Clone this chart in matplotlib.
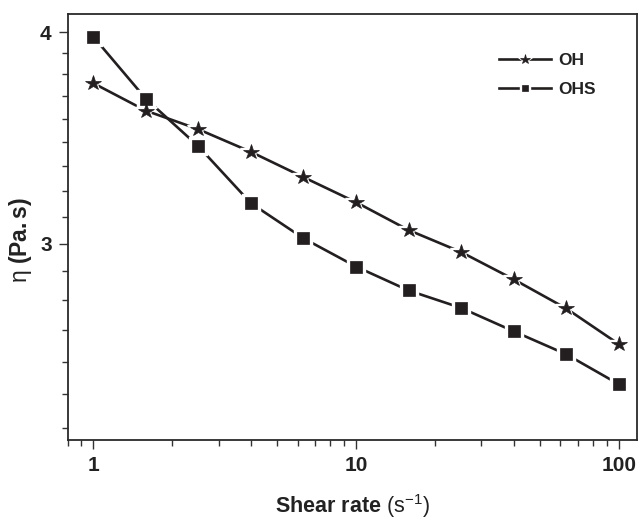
import matplotlib
matplotlib.use("Agg")
import matplotlib.pyplot as plt
from matplotlib.ticker import FixedLocator, FixedFormatter, NullFormatter, LogLocator
from matplotlib.legend_handler import HandlerTuple

plt.rcParams["font.family"] = ["Liberation Sans", "DejaVu Sans"]
plt.rcParams["mathtext.fontset"] = "custom"
plt.rcParams["mathtext.rm"] = "Liberation Sans"
plt.rcParams["mathtext.bf"] = "Liberation Sans:bold"
plt.rcParams["mathtext.it"] = "Liberation Sans:italic"

# Shear rate (1/s) and viscosity (Pa.s) for both samples
shear_rate = [1.0, 1.585, 2.512, 3.981, 6.310, 10.0, 15.85, 25.12, 39.81, 63.10, 100.0]
eta_oh = [3.732, 3.595, 3.505, 3.399, 3.284, 3.174, 3.056, 2.966, 2.858, 2.747, 2.617]
eta_ohs = [3.976, 3.654, 3.425, 3.170, 3.022, 2.908, 2.815, 2.749, 2.663, 2.581, 2.478]

series_labels = ["OH", "OHS"]
x_tick_labels = ["1", "10", "100"]
y_tick_values = [3, 4]
y_tick_labels = ["3", "4"]

ink = "#231f20"

fig = plt.figure(figsize=(6.40, 5.21), dpi=100)
ax = fig.add_axes([0.1058, 0.1555, 0.889, 0.8177])
ax.set_xscale("log")
ax.set_yscale("log")


def draw_series(x, y, marker, ms, gap):
    line, = ax.plot(x, y, "-", color=ink, lw=1.9, zorder=2)
    halo, = ax.plot(x, y, ls="none", marker=marker, ms=ms + gap,
                    color="white", mec="white", zorder=3)
    dot, = ax.plot(x, y, ls="none", marker=marker, ms=ms,
                   color=ink, mec=ink, mew=0.5, zorder=4)
    return (line, halo, dot)


h_oh = draw_series(shear_rate, eta_oh, "*", 11.5, 5.5)
h_ohs = draw_series(shear_rate, eta_ohs, "s", 8.3, 4.0)

ax.set_xlim(0.8, 117)
ax.set_ylim(2.297, 4.10)

# axis ticks
ax.xaxis.set_major_locator(FixedLocator([1, 10, 100]))
ax.xaxis.set_major_formatter(FixedFormatter(x_tick_labels))
ax.xaxis.set_minor_locator(LogLocator(base=10, subs=[2, 3, 4, 5, 6, 7, 8, 9]))
ax.xaxis.set_minor_formatter(NullFormatter())

y_minor = [3 + k / 9 for k in range(1, 9)] + [3 - k / 9 for k in range(1, 7)]
ax.yaxis.set_major_locator(FixedLocator(y_tick_values))
ax.yaxis.set_major_formatter(FixedFormatter(y_tick_labels))
ax.yaxis.set_minor_locator(FixedLocator(y_minor))
ax.yaxis.set_minor_formatter(NullFormatter())

ax.tick_params(which="major", direction="out", length=6.5, width=1.0,
               color="#333333", labelsize=15, pad=5)
ax.tick_params(which="minor", direction="out", length=4, width=1.0,
               color="#333333")
ax.tick_params(top=False, right=False, which="both")
for lab in ax.get_xticklabels() + ax.get_yticklabels():
    lab.set_fontweight("bold")
    lab.set_color("#222222")

for side in ["left", "bottom", "top", "right"]:
    ax.spines[side].set_linewidth(1.3)
    ax.spines[side].set_color("#2a2a2a")

ax.set_xlabel(r"$\mathbf{Shear\ rate}\ \mathrm{(s^{-1})}$", fontsize=15.5,
              color="#222222", labelpad=12)
ax.set_ylabel(r"$\mathrm{\eta}\ \mathbf{(Pa{.}s)}$", fontsize=16.5,
              color="#222222")
ax.yaxis.set_label_coords(-0.06, 0.47)

leg = ax.legend([h_oh, h_ohs], series_labels,
                handler_map={tuple: HandlerTuple(ndivide=1)},
                loc="upper left", bbox_to_anchor=(0.742, 0.93),
                frameon=False, borderpad=0, handlelength=3.0,
                handletextpad=0.42, labelspacing=0.8, markerscale=0.6,
                prop={"size": 12.5, "weight": "bold"})
for t in leg.get_texts():
    t.set_color("#222222")

fig.savefig("out.png", dpi=100, facecolor="white")
